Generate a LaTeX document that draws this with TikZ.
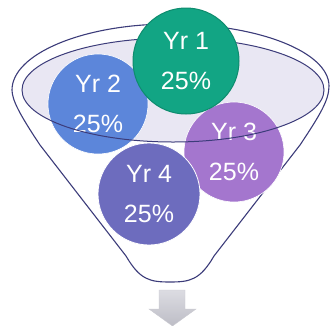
\documentclass[tikz,border=0pt]{standalone}
\usepackage{fontspec}
\setmainfont{Liberation Sans}
\usetikzlibrary{shapes.geometric}
\definecolor{rim}{HTML}{3C3C7A}
\definecolor{bowl}{HTML}{E9E7F3}
\definecolor{yrgreen}{HTML}{12A584}
\definecolor{yrgreenedge}{HTML}{0E8C6E}
\definecolor{yrblue}{HTML}{5C86DA}
\definecolor{yrpurple}{HTML}{A476CE}
\definecolor{yrindigo}{HTML}{6D6CBE}
\definecolor{arrowtop}{HTML}{DCDCE2}
\definecolor{arrowbot}{HTML}{BDBDC6}
\tikzset{
  share/.style={circle, minimum size=#1, inner sep=0pt, text=white,
    align=center, font=\fontsize{25}{40}\selectfont},
  rimline/.style={draw=rim, line width=1.1pt},
}
\begin{document}
\begin{tikzpicture}[x=1pt, y=-1pt]
  \useasboundingbox (0,0) rectangle (331,325);

  % funnel body
  \draw[rimline, fill=white]
    (12,90) .. controls (12,54) and (83,24) .. (170.5,24)
    .. controls (258,24) and (329,52) .. (329,86)
    .. controls (329,100) and (320,115) .. (300,145)
    -- (214,256)
    .. controls (200,280) and (190,282) .. (170,282)
    .. controls (150,282) and (140,280) .. (126,256)
    -- (40,145)
    .. controls (20,115) and (12,100) .. (12,90) -- cycle;

  % bowl surface
  \node[ellipse, fill=bowl, minimum width=302pt, minimum height=104pt,
        inner sep=0pt] (bowl) at (173,90) {};

  % year shares
  \node[share=100pt, fill=yrblue, draw=white, line width=0.6pt] (yr2) at (98,104) {Yr 2\\25\%};
  \node[share=100pt, fill=yrpurple, draw=white, line width=0.6pt] (yr3) at (234,152) {Yr 3\\25\%};

  % rim of the bowl surface, seen through the lower balls
  \node[ellipse, draw=rim, line width=1pt, minimum width=302pt,
        minimum height=104pt, inner sep=0pt] (bowlrim) at (173,90) {};

  \node[share=102pt, fill=yrindigo, draw=white, line width=0.8pt] (yr4) at (149,194) {Yr 4\\25\%};
  \node[share=106pt, fill=yrgreen, draw=yrgreenedge, line width=1pt] (yr1) at (186,61) {Yr 1\\25\%};

  % output arrow
  \path[top color=arrowtop, bottom color=arrowbot, draw=arrowbot!80, line width=0.4pt]
    (159,290) -- (185,290) -- (185,309) -- (196,309) -- (172.5,326)
    -- (149,309) -- (159,309) -- cycle;
\end{tikzpicture}
\end{document}
